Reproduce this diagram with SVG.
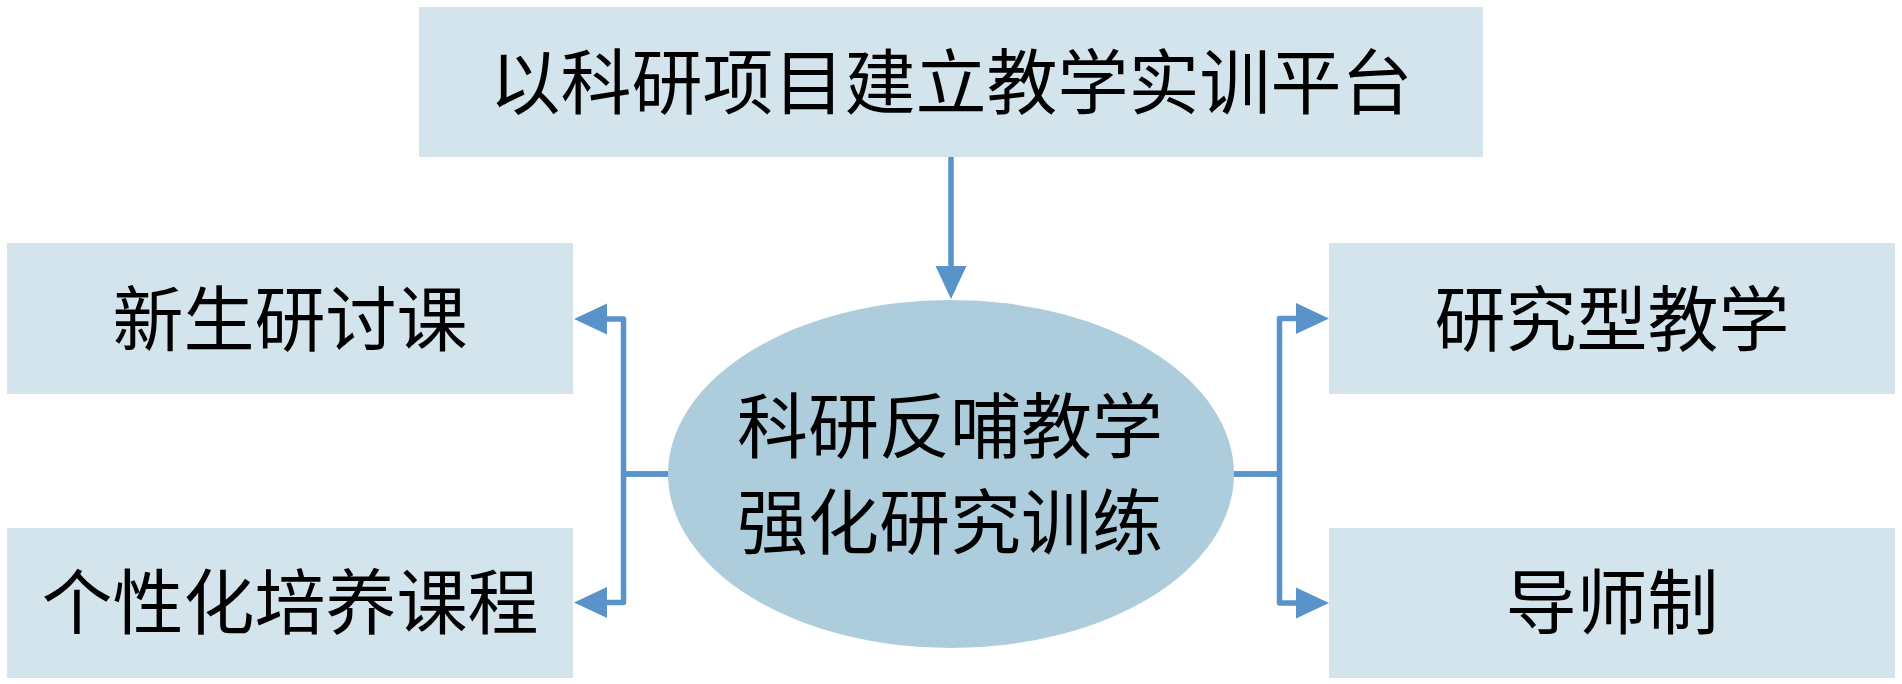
<svg xmlns="http://www.w3.org/2000/svg" width="1902" height="684" viewBox="0 0 1902 684">
<defs>
<style>
.box{fill:#d3e4ed}
.ell{fill:#adcddc}
.t{font-family:"Liberation Serif","Noto Sans CJK SC",serif;font-size:71px;fill:#000;text-anchor:middle}
.c{fill:none;stroke:#5a93c9;stroke-width:5.5;stroke-linejoin:round;stroke-linecap:round}
</style>
<marker id="ah" markerUnits="userSpaceOnUse" markerWidth="34" markerHeight="32" refX="0" refY="15.5" orient="auto" overflow="visible">
<path d="M0,0 L33,15.5 L0,31 Z" fill="#5a93c9"/>
</marker>
</defs>
<rect width="1902" height="684" fill="#fff"/>
<g id="connectors">
<path class="c" d="M951,157 V266" marker-end="url(#ah)"/>
<path class="c" d="M668,474 H623.5 V319 H607" marker-end="url(#ah)"/>
<path class="c" d="M668,474 H623.5 V602.5 H607" marker-end="url(#ah)"/>
<path class="c" d="M1234,474 H1279.5 V318.5 H1296" marker-end="url(#ah)"/>
<path class="c" d="M1234,474 H1279.5 V603 H1296" marker-end="url(#ah)"/>
</g>
<g id="top">
<rect class="box" x="419" y="7" width="1064" height="150"/>
<text class="t" x="951" y="108">以科研项目建立教学实训平台</text>
</g>
<g id="left-top">
<rect class="box" x="7" y="243" width="566" height="151"/>
<text class="t" x="290" y="345">新生研讨课</text>
</g>
<g id="left-bottom">
<rect class="box" x="7" y="528" width="566" height="150"/>
<text class="t" x="290" y="628">个性化培养课程</text>
</g>
<g id="right-top">
<rect class="box" x="1329" y="243" width="566" height="151"/>
<text class="t" x="1612" y="345">研究型教学</text>
</g>
<g id="right-bottom">
<rect class="box" x="1329" y="528" width="566" height="150"/>
<text class="t" x="1612" y="628">导师制</text>
</g>
<g id="center">
<ellipse class="ell" cx="951" cy="474" rx="283" ry="174"/>
<text class="t" x="950" y="452">科研反哺教学</text>
<text class="t" x="950" y="548">强化研究训练</text>
</g>
</svg>
